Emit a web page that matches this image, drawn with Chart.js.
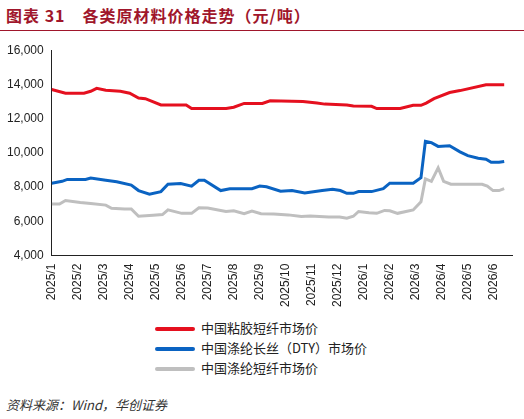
<!DOCTYPE html><html><head><meta charset="utf-8">
<script src="https://cdn.jsdelivr.net/npm/chart.js@4"></script>
<style>
body{margin:0;width:524px;height:419px;background:#fff;font-family:"Noto Sans CJK SC",sans-serif;position:relative;overflow:hidden}
#t{position:absolute;left:6px;top:3px;font-size:16px;font-weight:bold;color:#a0162b;letter-spacing:1px}
#hl{position:absolute;left:0;top:30px;width:524px;height:1px;background:#a0162b}
#c{position:absolute;left:0;top:40px;width:524px;height:270px}
.lg{position:absolute;left:155px;font-size:13px;color:#222}
.lg i{display:inline-block;width:40px;height:4px;margin-right:6px;vertical-align:middle;border-radius:2px}
#f{position:absolute;left:6px;top:395px;font-size:13px;color:#333;font-style:italic}
</style></head><body>
<div id="t">图表 31　各类原材料价格走势（元/吨）</div><div id="hl"></div>
<div id="c"><canvas id="cv"></canvas></div>
<div class="lg" style="top:318px"><i style="background:#e5101f"></i>中国粘胶短纤市场价</div>
<div class="lg" style="top:338px"><i style="background:#0a63c2"></i>中国涤纶长丝（DTY）市场价</div>
<div class="lg" style="top:358px"><i style="background:#bfbfbf"></i>中国涤纶短纤市场价</div>
<div id="f">资料来源：Wind，华创证券</div>
<script>
const monthLabels=["2025/1","2025/2","2025/3","2025/4","2025/5","2025/6","2025/7","2025/8","2025/9","2025/10","2025/11","2025/12","2026/1","2026/2","2026/3","2026/4","2026/5","2026/6"];
const redX=[0,0.53,1.24,1.5,1.73,2.08,2.64,3.0,3.34,3.6,4.2,5.17,5.38,6.71,7.0,7.4,8.1,8.4,9.66,10.2,10.5,11.35,11.6,12.3,12.5,13.4,13.9,14.2,14.4,14.7,15.3,15.7,16.7,17.4];
const redY=[13700,13490,13490,13600,13770,13660,13600,13490,13210,13170,12800,12800,12590,12590,12670,12890,12890,13040,13000,12910,12850,12800,12740,12720,12590,12590,12780,12780,12910,13170,13530,13640,13980,13980];
const blueX=[0,0.4,0.6,1.3,1.5,2.08,2.5,3.06,3.34,3.76,4.2,4.47,4.96,5.38,5.66,5.87,6.5,6.85,7.7,8.0,8.26,8.8,9.24,9.73,10.4,10.8,11.1,11.35,11.6,11.8,12.3,12.75,13.0,13.9,14.2,14.37,14.6,14.86,15.3,15.7,16.0,16.4,16.7,16.9,17.2,17.4];
const blueY=[8230,8340,8450,8450,8530,8400,8320,8120,7800,7590,7740,8170,8210,8060,8400,8400,7800,7910,7910,8060,8020,7760,7800,7660,7800,7870,7800,7640,7640,7740,7740,7910,8230,8230,8550,10680,10600,10380,10420,10060,9840,9690,9630,9450,9450,9500];
const grayX=[0,0.3,0.53,1.1,1.5,2.08,2.3,2.8,3.06,3.34,3.9,4.26,4.47,5.0,5.38,5.66,6.0,6.7,7.0,7.4,7.7,8.05,8.54,9.1,9.6,9.94,10.65,11.07,11.35,11.6,11.8,12.2,12.5,12.8,13.0,13.3,13.9,14.2,14.37,14.6,14.86,15.07,15.35,16.55,16.75,16.97,17.2,17.4];
const grayY=[7010,7010,7220,7100,7050,6950,6770,6730,6730,6300,6360,6400,6670,6470,6470,6800,6780,6580,6620,6450,6600,6450,6430,6380,6280,6310,6260,6260,6190,6300,6580,6510,6470,6640,6620,6470,6670,7150,8480,8340,9130,8340,8170,8170,8060,7800,7800,7910];
const yTicks=[4000,6000,8000,10000,12000,14000,16000];
const pts=(xs,ys)=>xs.map((x,i)=>({x:x,y:ys[i]}));
new Chart(document.getElementById('cv'),{type:'line',
data:{datasets:[
{data:pts(grayX,grayY),borderColor:'#bfbfbf',borderWidth:3,pointRadius:0,tension:0},
{data:pts(blueX,blueY),borderColor:'#0a63c2',borderWidth:3,pointRadius:0,tension:0},
{data:pts(redX,redY),borderColor:'#e5101f',borderWidth:3,pointRadius:0,tension:0}]},
options:{responsive:true,maintainAspectRatio:false,animation:false,
layout:{padding:{left:4,right:12,top:10,bottom:0}},
plugins:{legend:{display:false},tooltip:{enabled:false}},
scales:{
x:{type:'linear',min:0,max:17.7,afterBuildTicks:a=>{a.ticks=monthLabels.map((_,i)=>({value:i}));},
ticks:{autoSkip:false,maxRotation:90,minRotation:90,color:'#222',font:{size:12,family:'Liberation Sans'},callback:v=>monthLabels[v]},
grid:{display:false,drawTicks:true,tickLength:5},border:{color:'#222'}},
y:{min:4000,max:16000,afterBuildTicks:a=>{a.ticks=yTicks.map(v=>({value:v}));},
ticks:{color:'#222',font:{size:12,family:'Liberation Sans'},callback:v=>v.toLocaleString('en-US')},
grid:{display:false,tickLength:5},border:{color:'#222'}}}}});
</script></body></html>
